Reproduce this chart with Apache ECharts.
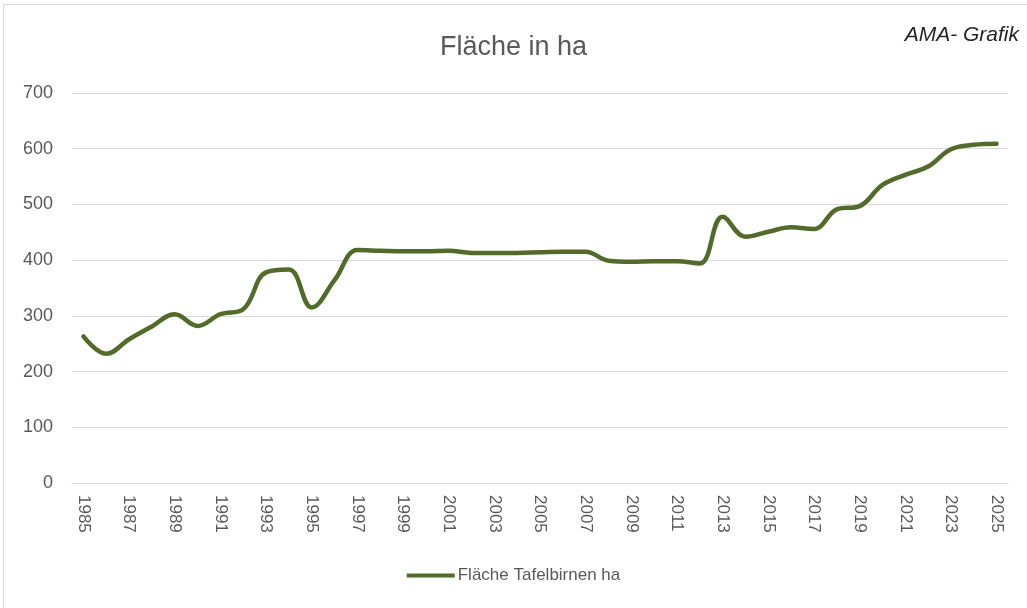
<!DOCTYPE html>
<html>
<head>
<meta charset="utf-8">
<script src="https://cdn.jsdelivr.net/npm/echarts@6/dist/echarts.min.js"></script>
<style>
    html, body { margin: 0; padding: 0; background: #fff; }
    #chart { width: 1027px; height: 608px; }
</style>
</head>
<body>
<div id="chart"></div>
<script>
// Jahre 1985 - 2025
const years = [];
for (let y = 1985; y <= 2025; y++) years.push(String(y));

const flaeche = [
    263, 232, 258, 281, 303, 282, 303, 312, 378, 383,
    315, 364, 418, 417, 416, 416, 417, 413, 413, 413,
    414, 415, 415, 399, 397, 398, 398, 394, 478, 442,
    451, 459, 456, 491, 497, 535, 553, 568, 599, 607,
    609
];

const yTicks = [0, 100, 200, 300, 400, 500, 600, 700];

const chart = echarts.init(document.getElementById('chart'));
chart.setOption({
    backgroundColor: '#fff',
    animation: false,
    textStyle: { fontFamily: 'Liberation Sans, Arial, sans-serif' },
    graphic: [{
        type: 'rect',
        shape: { x: 3.5, y: 4.5, width: 1040, height: 620 },
        style: { fill: 'none', stroke: '#d9d9d9', lineWidth: 1 },
        silent: true
    }, {
        type: 'text',
        right: 8,
        top: 25,
        style: {
            text: 'AMA- Grafik',
            font: 'italic 21px Liberation Sans, Arial, sans-serif',
            fill: '#262626'
        }
    }],
    title: {
        text: 'Fläche in ha',
        left: 'center',
        top: 29,
        textStyle: {
            fontSize: 27,
            color: '#595959',
            fontWeight: 'normal'
        }
    },
    legend: {
        bottom: 19,
        left: 'center',
        itemWidth: 48,
        itemHeight: 4,
        itemGap: 4,
        icon: 'rect',
        data: ['Fläche Tafelbirnen ha'],
        textStyle: { fontSize: 17, color: '#595959', padding: [0, 0, 0, -2] }
    },
    grid: {
        top: 93,
        left: 72,
        right: 19,
        bottom: 125
    },
    xAxis: {
        type: 'category',
        boundaryGap: true,
        data: years,
        axisLine: { lineStyle: { color: '#d9d9d9', width: 1 } },
        axisTick: { show: false },
        axisLabel: {
            interval: 1,
            rotate: -90,
            margin: 12,
            fontSize: 17,
            color: '#595959'
        }
    },
    yAxis: {
        type: 'value',
        min: yTicks[0],
        max: yTicks[yTicks.length - 1],
        interval: 100,
        axisLine: { show: false },
        axisTick: { show: false },
        axisLabel: { fontSize: 18, color: '#595959', margin: 19 },
        splitLine: { lineStyle: { color: '#d9d9d9', width: 1 } }
    },
    series: [{
        name: 'Fläche Tafelbirnen ha',
        type: 'line',
        smooth: 0.4,
        showSymbol: false,
        symbol: 'none',
        data: flaeche,
        lineStyle: { width: 4.5, color: '#536b2a', cap: 'round' },
        itemStyle: { color: '#536b2a' }
    }]
});
</script>
</body>
</html>
